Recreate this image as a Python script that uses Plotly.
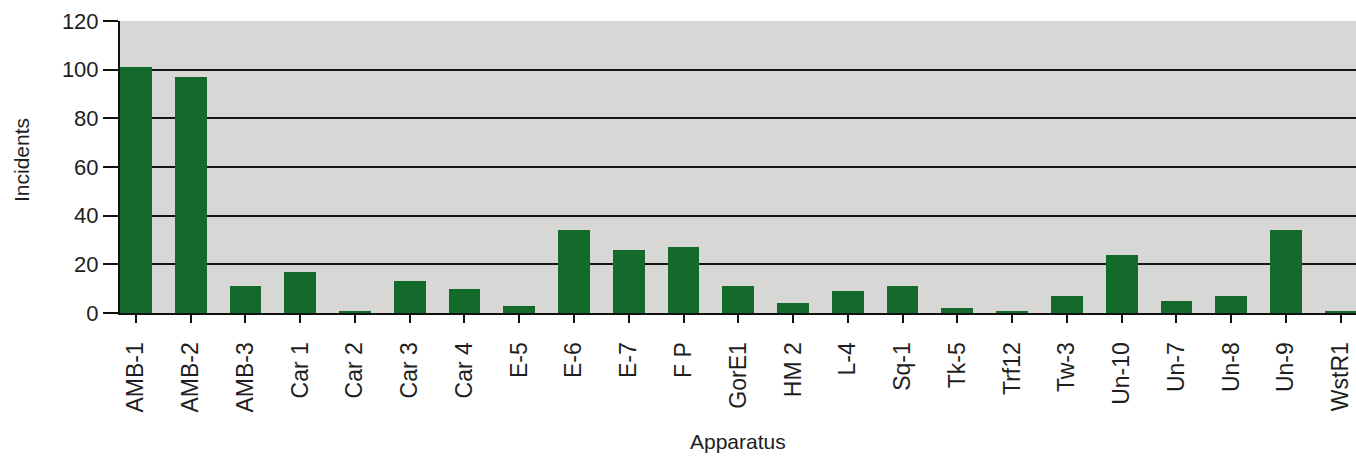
import plotly.graph_objects as go

# Incidents per apparatus
apparatus = ["AMB-1", "AMB-2", "AMB-3", "Car 1", "Car 2", "Car 3", "Car 4", "E-5",
             "E-6", "E-7", "F P", "GorE1", "HM 2", "L-4", "Sq-1", "Tk-5", "Trf12",
             "Tw-3", "Un-10", "Un-7", "Un-8", "Un-9", "WstR1"]
incidents = [101, 97, 11, 17, 1, 13, 10, 3, 34, 26, 27, 11, 4, 9, 11, 2, 1,
             7, 24, 5, 7, 34, 1]
y_ticks = [0, 20, 40, 60, 80, 100, 120]

FONT = "Liberation Sans, Arial, sans-serif"
TEXT = "#1e1e1e"

L, R, T, B = 120, 0, 21, 145
W, H = 1356, 458
plot_w = W - L - R
plot_h = H - T - B

fig = go.Figure(
    go.Bar(
        x=list(range(len(apparatus))),
        y=incidents,
        width=0.58,
        marker=dict(color="#136a2b", line=dict(width=0)),
        hovertext=apparatus,
    )
)

fig.update_layout(
    width=W,
    height=H,
    margin=dict(l=L, r=R, t=T, b=B),
    paper_bgcolor="white",
    plot_bgcolor="#d7d7d5",
    showlegend=False,
    bargap=0,
    font=dict(family=FONT, color=TEXT),
    annotations=[
        # axis titles, positioned in pixels relative to the plot area
        dict(text="Apparatus", xref="paper", yref="paper",
             x=0.5, y=-(442 - T - plot_h) / plot_h,
             xanchor="center", yanchor="middle", showarrow=False,
             font=dict(size=21, family=FONT, color=TEXT)),
        dict(text="Incidents", xref="paper", yref="paper",
             x=(21 - L) / plot_w, y=(H - B - 160) / plot_h,
             xanchor="center", yanchor="middle", showarrow=False, textangle=-90,
             font=dict(size=21, family=FONT, color=TEXT)),
    ],
)

fig.update_xaxes(
    range=[-0.29, 22.28],
    tickmode="array",
    tickvals=list(range(len(apparatus))),
    ticktext=apparatus,
    tickangle=-90,
    ticks="outside",
    ticklen=8,
    tickwidth=2,
    tickcolor="#111111",
    ticklabelstandoff=10,
    showline=True,
    linecolor="#111111",
    linewidth=2,
    showgrid=False,
    zeroline=False,
    tickfont=dict(size=23, family=FONT, color=TEXT),
)

fig.update_yaxes(
    range=[0, 120],
    tickmode="array",
    tickvals=y_ticks,
    ticks="outside",
    ticklen=15,
    tickwidth=2,
    tickcolor="#111111",
    showline=True,
    linecolor="#111111",
    linewidth=2,
    showgrid=True,
    gridcolor="#151515",
    gridwidth=2,
    zeroline=False,
    tickfont=dict(size=22, family=FONT, color=TEXT),
)

fig.write_html("out.html")
